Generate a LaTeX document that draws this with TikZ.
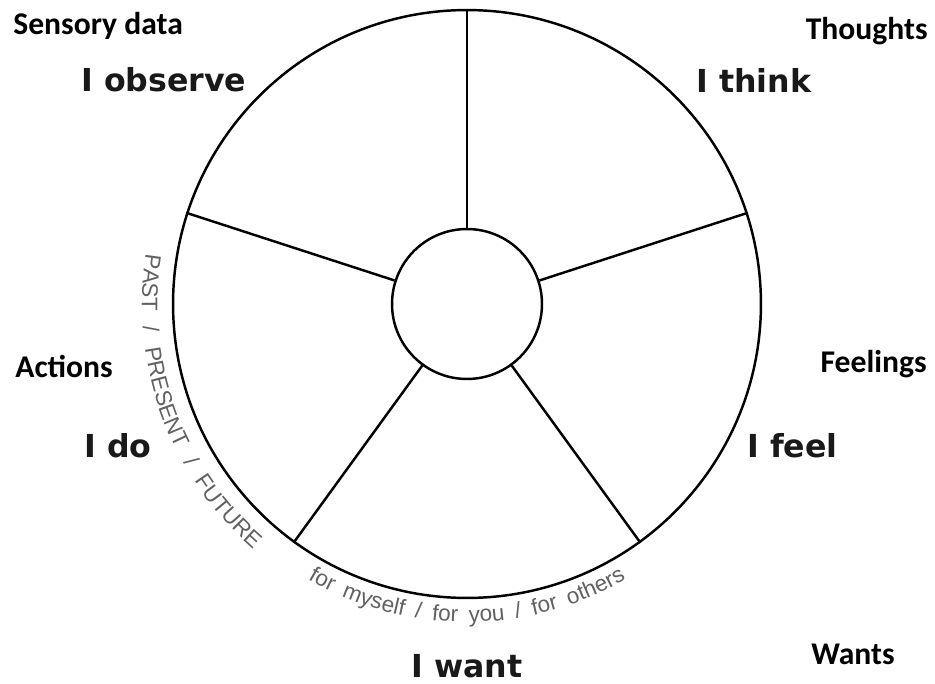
\documentclass[tikz,border=0pt]{standalone}
\usepackage{fontspec}
\usepackage{tikz}
\usetikzlibrary{decorations.text}
\newfontfamily\capfont{Carlito}
\newfontfamily\verbfont{DejaVu Sans}
\newfontfamily\arcfont{Liberation Sans}
\tikzset{
  wheel/.style = {circle, draw, line width=1.4pt, inner sep=0pt},
  spoke/.style = {line width=1.4pt},
  tag/.style   = {font=\capfont\bfseries\fontsize{18}{20}\selectfont, inner sep=0pt},
  verb/.style  = {font=\verbfont\bfseries\fontsize{18}{20}\selectfont, text=black!90, inner sep=0pt},
  arcnote/.style = {decorate, decoration={text along path, text color=black!62,
    text align=fit to path stretching spaces, text={|\arcfont\fontsize{12.8}{14}\selectfont|#1}}},
}

\begin{document}
\begin{tikzpicture}[x=0.02cm, y=0.02cm]
  \useasboundingbox (-467,-379) rectangle (468,304);

  % Wheel
  \node[wheel, minimum size=11.76cm] (rim) at (0,0) {};
  \node[wheel, minimum size=3cm] (hub) at (0,0) {};

  % Spokes
  \foreach \a in {90,162,234,306,18}
    \draw[spoke] (hub.\a) -- (rim.\a);

  % Curved notes along the rim
  \path[arcnote={PAST / PRESENT / FUTURE}] (171:325) arc[start angle=171, end angle=229, radius=325];
  \path[arcnote={for myself / for you / for others}] (240:318) arc[start angle=240, end angle=300, radius=318];

  % Segment verbs
  \node[verb, anchor=base west] (observe) at (-386,213) {I observe};
  \node[verb, anchor=base west] (think) at (229,212) {I think};
  \node[verb, anchor=base west] (do) at (-383,-153) {I do};
  \node[verb, anchor=base west] (feel) at (280,-153) {I feel};
  \node[verb, anchor=base] (want) at (0,-373) {I want};

  % Categories
  \node[tag, anchor=base west] (sensory) at (-454,269) {Sensory data};
  \node[tag, anchor=base east] (thoughts) at (461,264) {Thoughts};
  \node[tag, anchor=base west] (actions) at (-452,-73) {Actions};
  \node[tag, anchor=base east] (feelings) at (460,-68) {Feelings};
  \node[tag, anchor=base west] (wants) at (344,-360) {Wants};

\end{tikzpicture}
\end{document}
